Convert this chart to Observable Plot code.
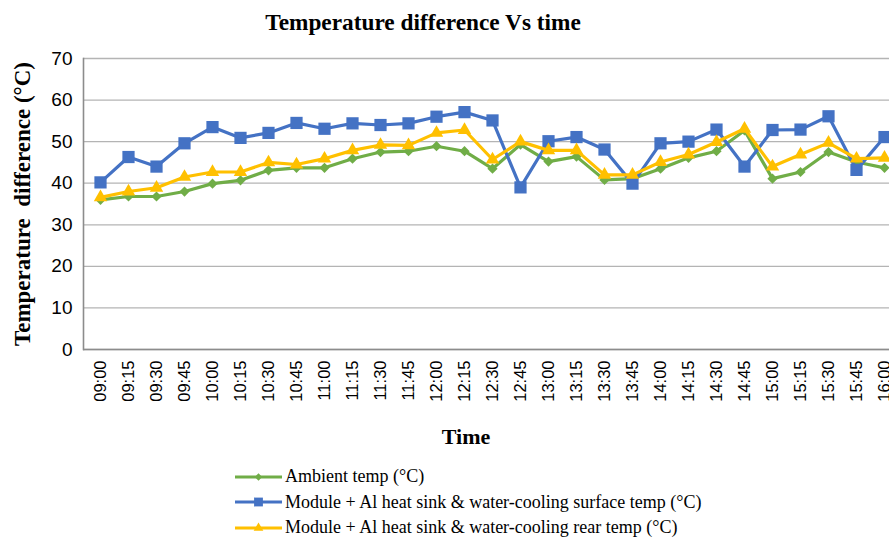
<!DOCTYPE html>
<html><head><meta charset="utf-8">
<script src="https://cdn.jsdelivr.net/npm/d3@7"></script>
<script src="https://cdn.jsdelivr.net/npm/@observablehq/plot@0.6"></script>
<style>
html,body{margin:0;padding:0;background:#fff;overflow:hidden;width:889px;height:540px}
#title{position:absolute;left:0;top:11px;width:846px;text-align:center;font:bold 23.3px "Liberation Serif","Times New Roman",serif;line-height:23px;color:#000;z-index:2}
#chart{position:absolute;left:0;top:40px}
#chart svg{max-width:none !important;overflow:visible}
#legend{position:absolute;left:235px;top:464px;font:18px "Liberation Serif","Times New Roman",serif;color:#000}
.row{height:25.5px;white-space:nowrap;display:flex;align-items:center}
.row svg{margin-right:3px;flex:none}
</style></head><body>
<div id="title">Temperature difference Vs time</div>
<div id="chart"></div>
<div id="legend"></div>
<script>
const times = ["09:00","09:15","09:30","09:45","10:00","10:15","10:30","10:45","11:00","11:15","11:30","11:45","12:00","12:15","12:30","12:45","13:00","13:15","13:30","13:45","14:00","14:15","14:30","14:45","15:00","15:15","15:30","15:45","16:00"];
const ambient = [36.0,36.8,36.8,38.0,39.9,40.7,43.1,43.7,43.7,45.9,47.5,47.7,48.9,47.7,43.5,49.3,45.2,46.4,40.8,41.1,43.5,46.1,47.7,52.7,41.1,42.7,47.5,45.1,43.7];
const surface = [40.2,46.3,44.0,49.6,53.5,50.9,52.1,54.5,53.1,54.4,54.0,54.4,56.0,57.1,55.1,39.0,50.1,51.1,48.1,39.9,49.6,50.0,52.9,44.0,52.8,52.9,56.1,43.2,51.1];
const rear = [36.6,38.0,38.9,41.5,42.7,42.7,45.0,44.5,45.9,47.9,49.2,49.1,52.1,52.8,45.7,50.0,47.9,47.9,42.0,42.0,45.1,46.9,49.9,53.1,44.0,46.9,49.7,45.9,46.1];
const seriesNames = ["Ambient temp (°C)","Module + Al heat sink & water-cooling surface temp (°C)","Module + Al heat sink & water-cooling rear temp (°C)"];
const seriesColors = ["#70ad47","#4472c4","#ffc000"];
const seriesSymbols = ["diamond2","square","triangle"];
const seriesR = [4.6,6.9,5.0];
const yTicks = [0,10,20,30,40,50,60,70];
const yTitle = "Temperature\u00a0 difference (°C)";
const xTitle = "Time";

const seriesValues = [ambient, surface, rear];
const seriesMarks = seriesValues.flatMap((vals, s) => {
  const data = times.map((t, i) => ({time: t, value: vals[i]}));
  return [
    Plot.line(data, {x: "time", y: "value", stroke: seriesColors[s], strokeWidth: 3.2}),
    Plot.dot(data, {x: "time", y: "value", symbol: () => seriesSymbols[s], r: seriesR[s], fill: seriesColors[s], stroke: "none"})
  ];
});

const chart = Plot.plot({
  width: 900, height: 420,
  marginTop: 18, marginBottom: 111, marginLeft: 83, marginRight: 0,
  style: {fontFamily: '"Liberation Sans", Arial, sans-serif', color: "#000", background: "transparent", overflow: "visible", maxWidth: "none"},
  x: {type: "band", domain: times, padding: 0},
  y: {domain: [0, 70]},
  symbol: {type: "identity"},
  marks: [
    Plot.gridY(yTicks, {stroke: "#b4b4b4", strokeOpacity: 1, strokeWidth: 1.3}),
    Plot.ruleY([0], {stroke: "#8c8c8c", strokeWidth: 1.6}),
    Plot.frame({anchor: "left", stroke: "#8c8c8c", strokeWidth: 1.6}),
    Plot.axisY(yTicks, {tickSize: 0, tickPadding: 11, fontSize: 19, label: null}),
    Plot.axisX({tickSize: 0, tickPadding: 11, tickRotate: -90, fontSize: 16.5, label: null}),
    Plot.text([xTitle], {text: d => d, frameAnchor: "bottom", dx: -26, dy: 94, fontSize: 22, fontWeight: "bold", fontFamily: '"Liberation Serif", serif'}),
    Plot.text([yTitle], {text: d => d, frameAnchor: "left", textAnchor: "middle", rotate: -90, dx: -61, fontSize: 23, fontWeight: "bold", fontFamily: '"Liberation Serif", serif'}),
    ...seriesMarks
  ]
});
document.getElementById("chart").appendChild(chart);

const legend = d3.select("#legend");
seriesNames.forEach((name, s) => {
  const row = legend.append("div").attr("class", "row");
  const svg = row.append("svg").attr("width", 47).attr("height", 14);
  svg.append("line").attr("x1", 0).attr("x2", 47).attr("y1", 7).attr("y2", 7)
    .attr("stroke", seriesColors[s]).attr("stroke-width", 3.2);
  const sym = {diamond2: d3.symbolDiamond2, square: d3.symbolSquare, triangle: d3.symbolTriangle}[seriesSymbols[s]];
  const rr = seriesR[s] * 0.72;
  svg.append("path").attr("transform", "translate(23.5,7)")
    .attr("d", d3.symbol(sym, Math.PI * rr * rr)()).attr("fill", seriesColors[s]);
  row.append("span").text(name);
});
</script>
</body></html>
